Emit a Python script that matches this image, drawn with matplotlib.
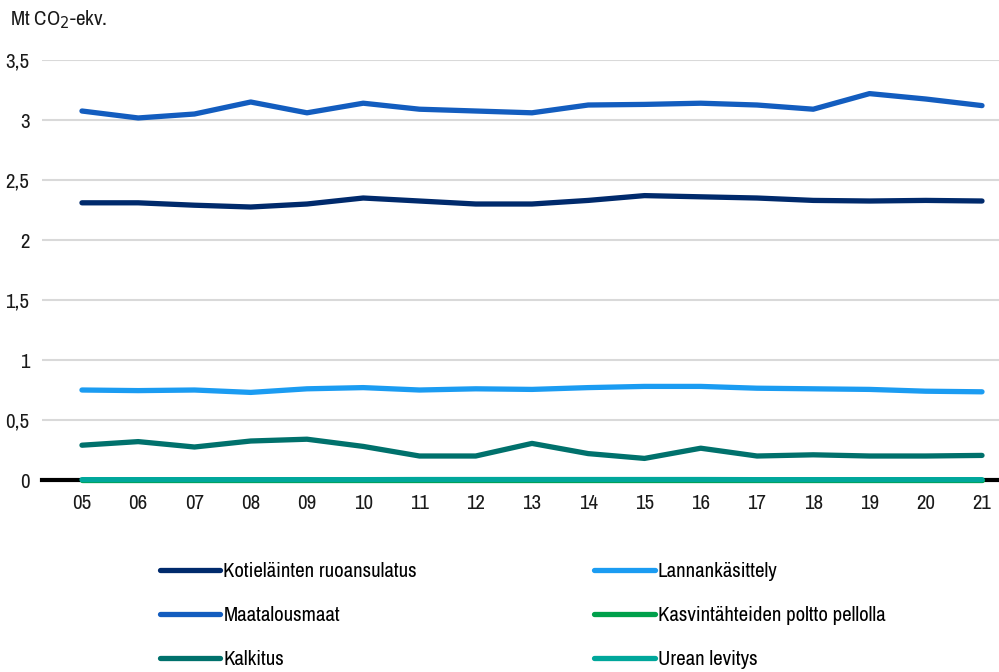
import matplotlib
matplotlib.use("Agg")
import matplotlib.pyplot as plt
from matplotlib import font_manager
from matplotlib.ticker import FuncFormatter

cands = [f.name for f in font_manager.fontManager.ttflist
         if "narrow" in f.name.lower() or "condensed" in f.name.lower()]
family = cands[0] if cands else "Liberation Sans"
plt.rcParams['font.family'] = [family, 'DejaVu Sans']

years = list(range(2005, 2022))
year_labels = [f"{y % 100:02d}" for y in years]

kotielainten = [2.31, 2.31, 2.29, 2.275, 2.30, 2.35, 2.325, 2.30, 2.30, 2.33,
                2.37, 2.36, 2.35, 2.33, 2.325, 2.33, 2.325]
maatalousmaat = [3.075, 3.017, 3.05, 3.15, 3.06, 3.14, 3.09, 3.075, 3.06, 3.125,
                 3.13, 3.14, 3.125, 3.09, 3.22, 3.175, 3.12]
lannankasittely = [0.75, 0.745, 0.75, 0.73, 0.76, 0.77, 0.75, 0.76, 0.755, 0.77,
                   0.78, 0.78, 0.765, 0.76, 0.755, 0.74, 0.735]
kalkitus = [0.29, 0.32, 0.275, 0.325, 0.34, 0.28, 0.20, 0.20, 0.305, 0.22,
            0.18, 0.265, 0.20, 0.21, 0.20, 0.20, 0.205]
kasvintahteiden = [0.002] * 17
urean = [0.003, 0.003, 0.003, 0.003, 0.003, 0.003, 0.004, 0.004, 0.004, 0.004,
         0.004, 0.004, 0.003, 0.003, 0.003, 0.003, 0.003]

series = [
    ("Kotieläinten ruoansulatus", kotielainten, "#002a6c"),
    ("Maatalousmaat", maatalousmaat, "#135dbf"),
    ("Kalkitus", kalkitus, "#00716c"),
    ("Lannankäsittely", lannankasittely, "#1b9cf2"),
    ("Kasvintähteiden poltto pellolla", kasvintahteiden, "#00a04b"),
    ("Urean levitys", urean, "#00a79b"),
]

fig = plt.figure(figsize=(9.99, 6.72), dpi=100)
ax = fig.add_axes([0.042, 0.2857, 0.958, 0.625])

for y in [0.5, 1, 1.5, 2, 2.5, 3, 3.5]:
    ax.axhline(y, color="#d9d9d9", lw=1.5, zorder=0)
ax.axhline(0, color="black", lw=3, zorder=1, clip_on=False)

handles = {}
for name, vals, col in series:
    h, = ax.plot(years, vals, color=col, lw=3.8, solid_capstyle="round",
                 solid_joinstyle="round", label=name, zorder=3, clip_on=False)
    handles[name] = h

ax.set_xlim(2005 - 0.711, 2021 + 0.302)
ax.set_ylim(0, 3.5)
ax.set_yticks([0, 0.5, 1, 1.5, 2, 2.5, 3, 3.5])
ax.yaxis.set_major_formatter(FuncFormatter(lambda v, p: f"{v:g}".replace(".", ",")))
ax.set_xticks(years)
ax.set_xticklabels(year_labels)
ax.tick_params(axis="both", length=0, labelsize=15, colors="#1a1a1a")
ax.tick_params(axis="x", pad=10)
ax.tick_params(axis="y", pad=9)
for s in ax.spines.values():
    s.set_visible(False)

fig.text(0.010, 0.970, "Mt CO$_2$-ekv.", fontsize=15, va="center", ha="left",
         color="#1a1a1a")

order = [s[0] for s in series]
leg_kw = dict(frameon=False, loc="upper left", fontsize=15, handlelength=2.9,
              handletextpad=0.15, labelspacing=1.2, borderaxespad=0,
              borderpad=0)
leg1 = fig.legend([handles[n] for n in order[:3]], order[:3],
                  bbox_to_anchor=(0.160, 0.164), **leg_kw)
leg2 = fig.legend([handles[n] for n in order[3:]], order[3:],
                  bbox_to_anchor=(0.595, 0.164), **leg_kw)

fig.savefig("out.png", dpi=100)
